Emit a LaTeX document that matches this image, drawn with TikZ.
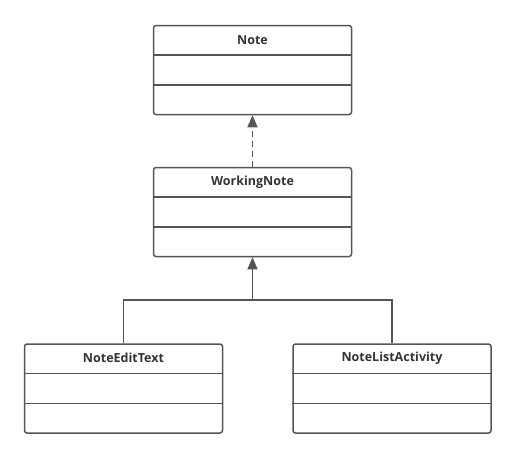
\documentclass[tikz,border=0pt]{standalone}
\usepackage{fontspec}
\setmainfont{Open Sans}
\usetikzlibrary{arrows.meta,positioning,calc}
\definecolor{linec}{HTML}{555555}
\definecolor{textc}{HTML}{333333}

\begin{document}
\begin{tikzpicture}[x=1pt, y=-1pt, >={Triangle[width=10pt,length=12pt]}]
    \tikzset{
      cls/.style={draw=linec, line width=1.5pt, rounded corners=2.5pt, minimum width=198pt, minimum height=89pt, inner sep=0pt},
      ttl/.style={font=\bfseries\fontsize{12.5}{15}\selectfont, text=textc},
      sep/.style={draw=linec, line width=1.5pt},
      link/.style={draw=linec, line width=1.5pt},
    }
    \useasboundingbox (0,0) rectangle (516,459);

    % class boxes
    \node[cls] (note) at (252.5,70) {};
    \node[cls] (wnote) at (252.5,212) {};
    \node[cls] (edit) at (123.5,388.5) {};
    \node[cls] (list) at (392,388.5) {};

    % titles
    \node[ttl] (noteT) at ($(note.north)+(0,15)$) {Note};
    \node[ttl] (wnoteT) at ($(wnote.north)+(0,15)$) {WorkingNote};
    \node[ttl] (editT) at ($(edit.north)+(0,15)$) {NoteEditText};
    \node[ttl] (listT) at ($(list.north)+(0,15)$) {NoteListActivity};

    % compartments
    \foreach \c in {note,wnote,edit,list}{
      \draw[sep] ([yshift=-30pt]\c.north west) -- ([yshift=-30pt]\c.north east);
      \draw[sep] ([yshift=-60pt]\c.north west) -- ([yshift=-60pt]\c.north east);
    }

    % realization
    \draw[link, ->, dash pattern=on 6pt off 4pt] (wnote.north) -- (note.south);

    % inheritance
    \coordinate (split) at (252.5,300);
    \draw[link, ->] (split) -- (wnote.south);
    \draw[link] (edit.north) |- (split) -| (list.north);
  \end{tikzpicture}
\end{document}
